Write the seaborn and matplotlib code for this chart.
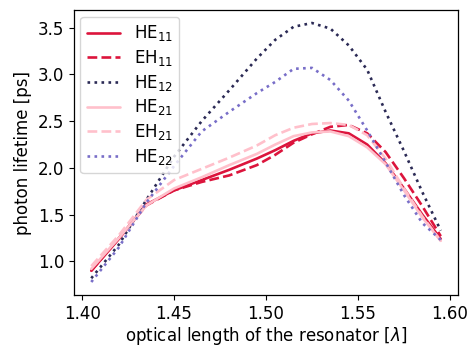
import numpy as np
import pandas as pd
import matplotlib
matplotlib.use("Agg")
import matplotlib.pyplot as plt
import seaborn as sns

# optical length of the resonator [lambda]
length = [1.405, 1.42, 1.435, 1.45, 1.465, 1.48, 1.495, 1.505, 1.515,
          1.525, 1.535, 1.545, 1.555, 1.565, 1.575, 1.585, 1.595]

# photon lifetime [ps] per mode
he11 = [0.90, 1.24, 1.61, 1.76, 1.87, 1.98, 2.10, 2.19, 2.29,
        2.37, 2.40, 2.37, 2.25, 2.05, 1.78, 1.50, 1.24]
eh11 = [0.90, 1.25, 1.60, 1.76, 1.85, 1.92, 2.03, 2.14, 2.27,
        2.36, 2.44, 2.46, 2.37, 2.17, 1.89, 1.59, 1.27]
he12 = [0.82, 1.18, 1.66, 2.12, 2.50, 2.83, 3.17, 3.37, 3.51,
        3.55, 3.49, 3.31, 3.05, 2.60, 2.18, 1.74, 1.33]
he21 = [0.92, 1.25, 1.60, 1.78, 1.90, 2.03, 2.15, 2.25, 2.34,
        2.38, 2.39, 2.34, 2.22, 2.04, 1.76, 1.47, 1.22]
eh21 = [0.95, 1.28, 1.66, 1.87, 1.99, 2.11, 2.24, 2.35, 2.43,
        2.47, 2.48, 2.46, 2.35, 2.10, 1.78, 1.48, 1.22]
he22 = [0.78, 1.15, 1.63, 2.02, 2.39, 2.60, 2.80, 2.92, 3.06,
        3.07, 2.94, 2.72, 2.40, 2.06, 1.71, 1.41, 1.23]

modes = [r"HE$_{11}$", r"EH$_{11}$", r"HE$_{12}$",
         r"HE$_{21}$", r"EH$_{21}$", r"HE$_{22}$"]
series = [he11, eh11, he12, he21, eh21, he22]
colors = ["crimson", "crimson", "#2b2a55", "pink", "pink", "#786ec8"]
styles = ["-", "--", ":", "-", "--", ":"]

sns.set_style("ticks", {"text.color": "black", "axes.labelcolor": "black",
                        "xtick.color": "black", "ytick.color": "black",
                        "axes.edgecolor": "black"})
plt.rcParams["font.family"] = ["DejaVu Sans"]
plt.rcParams["font.size"] = 12

fig = plt.figure(figsize=(4.7, 3.47), dpi=100)
ax = fig.add_axes([0.157, 0.150, 0.818, 0.821])

for name, vals, c, ls in zip(modes, series, colors, styles):
    df = pd.DataFrame({"length": length, "lifetime": vals})
    sns.lineplot(data=df, x="length", y="lifetime", ax=ax, color=c,
                 linestyle=ls, linewidth=1.9, label=name)

ax.set_xticks([1.40, 1.45, 1.50, 1.55, 1.60])
ax.set_xticklabels(["1.40", "1.45", "1.50", "1.55", "1.60"])
ax.set_yticks([1.0, 1.5, 2.0, 2.5, 3.0, 3.5])
ax.tick_params(labelsize=12)
ax.set_xlabel(r"optical length of the resonator [$\lambda$]", fontsize=12,
              labelpad=2)
ax.set_ylabel("photon lifetime [ps]", fontsize=12)
for s in ax.spines.values():
    s.set_linewidth(0.9)
ax.legend(loc="upper left", fontsize=12, handlelength=2.0,
          labelspacing=0.28, borderaxespad=0.4)

fig.savefig("out.png", dpi=100)
